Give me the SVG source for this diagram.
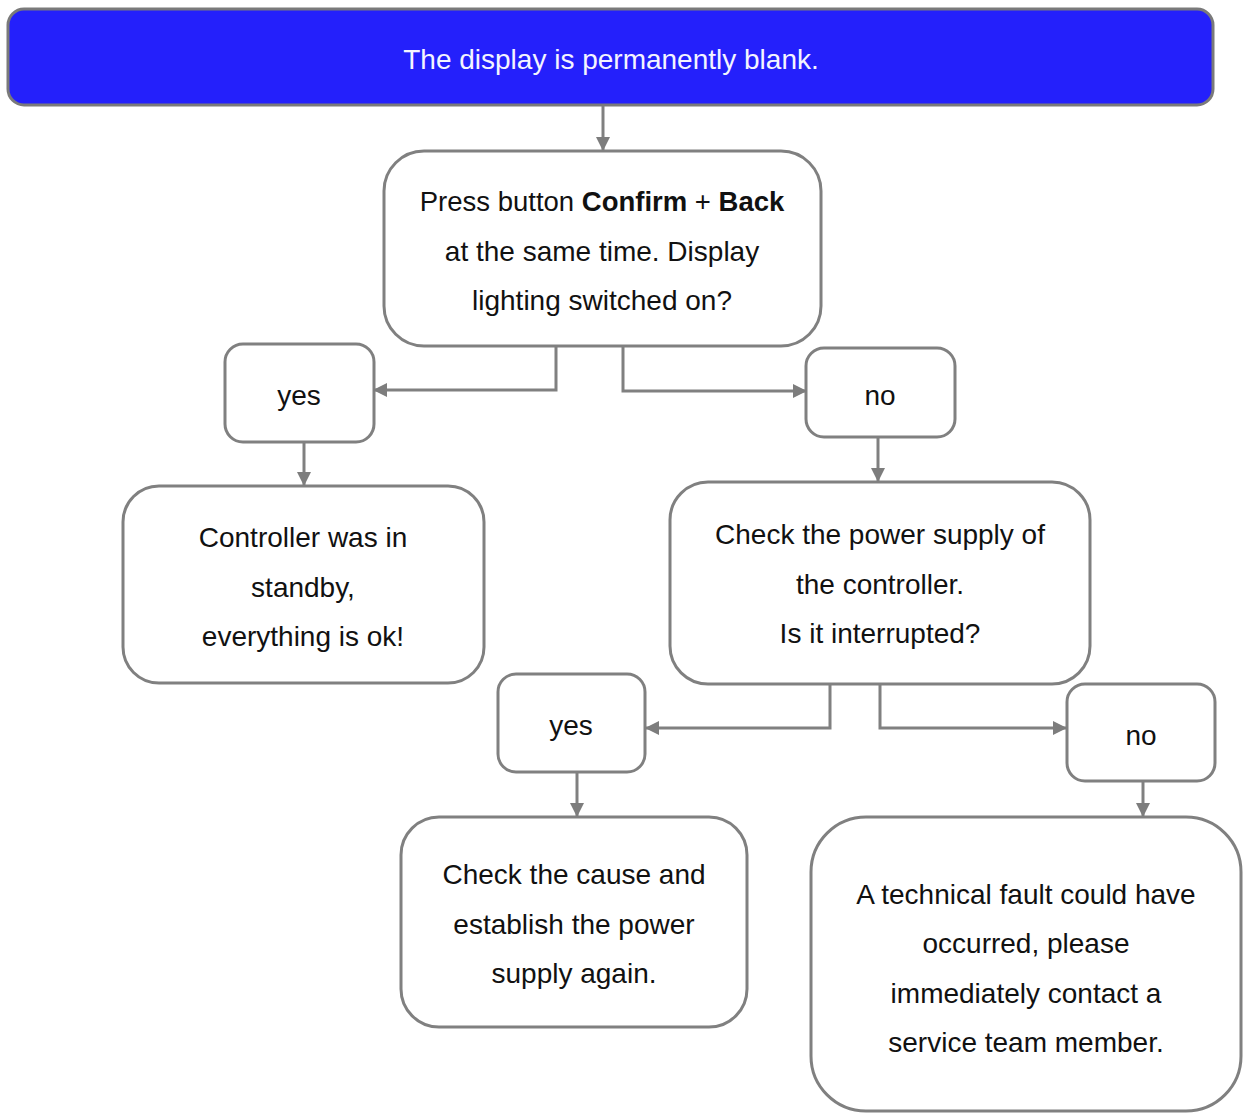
<svg xmlns="http://www.w3.org/2000/svg" width="1244" height="1113" viewBox="0 0 1244 1113">
<defs>
<marker id="ah" viewBox="0 0 14 14" refX="13" refY="7" markerWidth="14" markerHeight="14" markerUnits="userSpaceOnUse" orient="auto">
<path d="M0,0 L14,7 L0,14 Z" fill="#7d7d7d"/>
</marker>
</defs>
<style>
.box{fill:#ffffff;stroke:#808080;stroke-width:3}
.t{font-family:"Liberation Sans",Arial,sans-serif;font-size:28px;fill:#111;text-anchor:middle;dominant-baseline:central}
.c{fill:none;stroke:#808080;stroke-width:3;marker-end:url(#ah)}
</style>
<rect width="1244" height="1113" fill="#ffffff"/>
<g id="n_top">
<rect x="8" y="9" width="1205" height="96" rx="16" fill="#2420fb" stroke="#7a7a7a" stroke-width="3"/>
<text class="t" x="611" y="59" style="fill:#f4f4ff">The display is permanently blank.</text>
</g>
<g id="n_press">
<rect class="box" x="384" y="151" width="437" height="195" rx="40"/>
<text class="t" x="602" y="201" style="font-size:27.5px">Press button <tspan font-weight="bold">Confirm</tspan> + <tspan font-weight="bold">Back</tspan></text>
<text class="t" x="602" y="251">at the same time. Display</text>
<text class="t" x="602" y="300">lighting switched on?</text>
</g>
<g id="n_yes1">
<rect class="box" x="225" y="344" width="149" height="98" rx="18"/>
<text class="t" x="299" y="395">yes</text>
</g>
<g id="n_no1">
<rect class="box" x="806" y="348" width="149" height="89" rx="18"/>
<text class="t" x="880" y="395">no</text>
</g>
<g id="n_standby">
<rect class="box" x="123" y="486" width="361" height="197" rx="36"/>
<text class="t" x="303" y="537">Controller was in</text>
<text class="t" x="303" y="587">standby,</text>
<text class="t" x="303" y="636">everything is ok!</text>
</g>
<g id="n_power">
<rect class="box" x="670" y="482" width="420" height="202" rx="38"/>
<text class="t" x="880" y="534">Check the power supply of</text>
<text class="t" x="880" y="584">the controller.</text>
<text class="t" x="880" y="633">Is it interrupted?</text>
</g>
<g id="n_yes2">
<rect class="box" x="498" y="674" width="147" height="98" rx="18"/>
<text class="t" x="571" y="725">yes</text>
</g>
<g id="n_no2">
<rect class="box" x="1067" y="684" width="148" height="97" rx="18"/>
<text class="t" x="1141" y="735">no</text>
</g>
<g id="n_cause">
<rect class="box" x="401" y="817" width="346" height="210" rx="38"/>
<text class="t" x="574" y="874">Check the cause and</text>
<text class="t" x="574" y="924">establish the power</text>
<text class="t" x="574" y="973">supply again.</text>
</g>
<g id="n_fault">
<rect class="box" x="811" y="817" width="430" height="294" rx="55"/>
<text class="t" x="1026" y="894">A technical fault could have</text>
<text class="t" x="1026" y="943">occurred, please</text>
<text class="t" x="1026" y="993">immediately contact a</text>
<text class="t" x="1026" y="1042">service team member.</text>
</g>
<g id="connectors">
<path class="c" d="M603,106 L603,150"/>
<path class="c" d="M556,346 L556,390 L374,390"/>
<path class="c" d="M623,346 L623,391 L806,391"/>
<path class="c" d="M304,442 L304,485"/>
<path class="c" d="M878,437 L878,481"/>
<path class="c" d="M830,684 L830,728 L646,728"/>
<path class="c" d="M880,684 L880,728 L1066,728"/>
<path class="c" d="M577,772 L577,816"/>
<path class="c" d="M1143,781 L1143,816"/>
</g>
</svg>
